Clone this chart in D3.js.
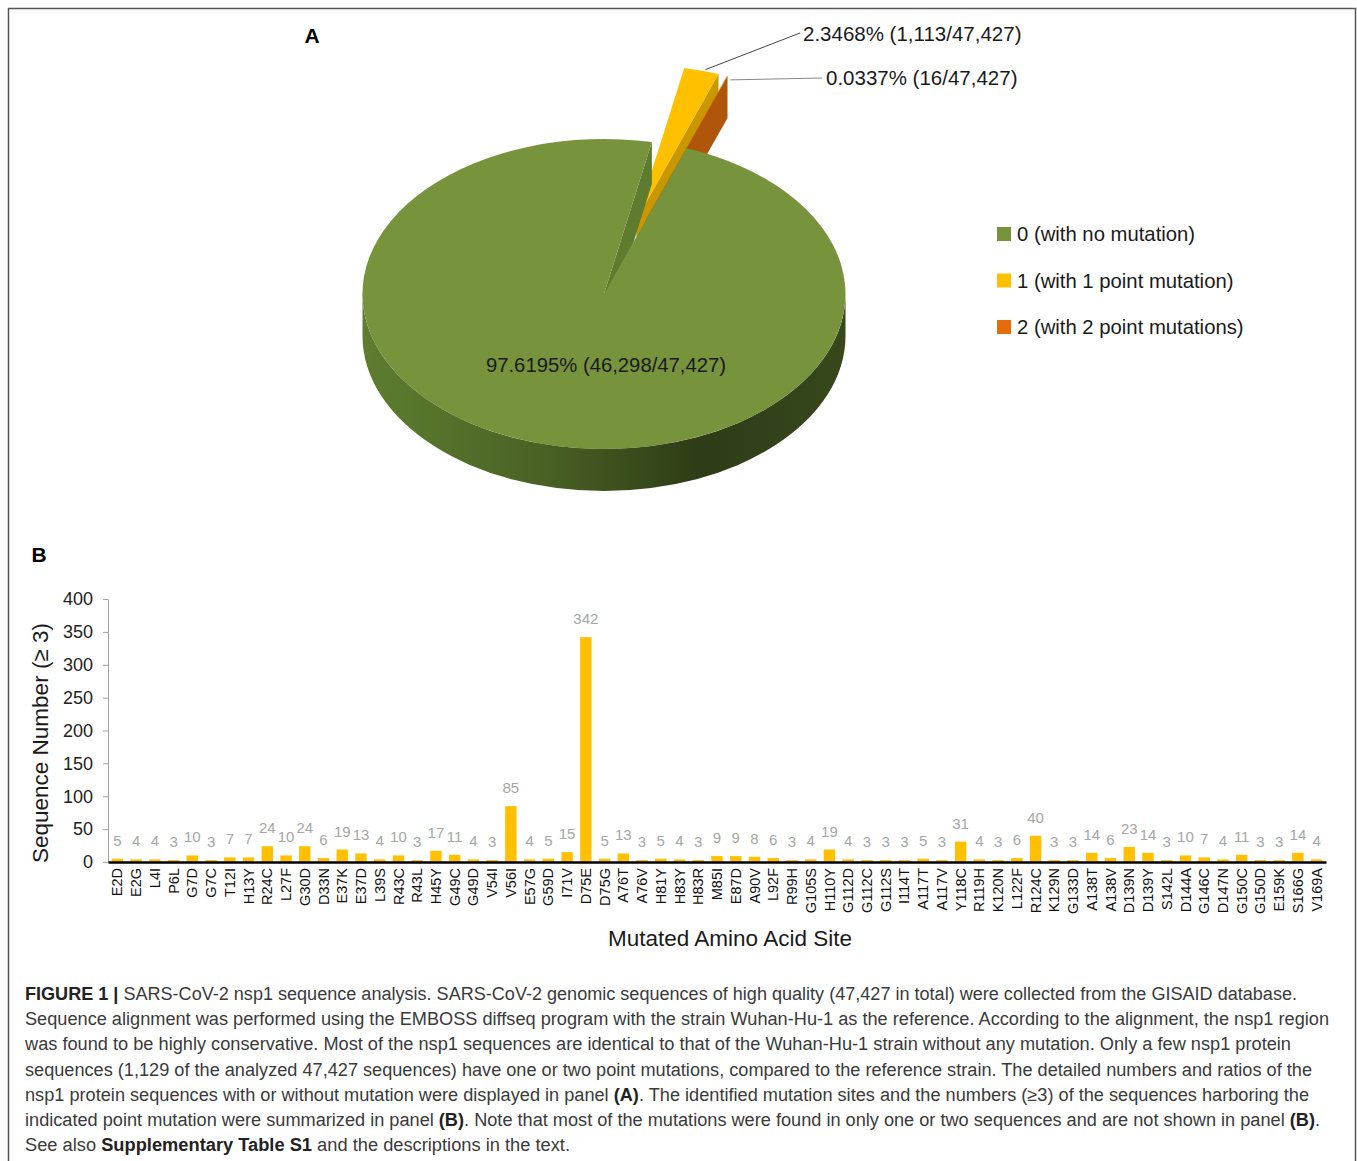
<!DOCTYPE html>
<html><head><meta charset="utf-8">
<script src="https://cdn.jsdelivr.net/npm/d3@7"></script>
<style>
body{margin:0;background:#fff}
text{font-family:"Liberation Sans",Arial,Helvetica,sans-serif}
</style>
</head><body>
<svg id="c" width="1357" height="1161"></svg>
<script>
// ---------- data ----------
const pieCategories = ["0 (with no mutation)", "1 (with 1 point mutation)", "2 (with 2 point mutations)"];
const pieCounts = [46298, 1113, 16];
const pieLabelTexts = ["97.6195% (46,298/47,427)", "2.3468% (1,113/47,427)", "0.0337% (16/47,427)"];

const sites = ["E2D","E2G","L4I","P6L","G7D","G7C","T12I","H13Y","R24C","L27F","G30D","D33N","E37K","E37D","L39S","R43C","R43L","H45Y","G49C","G49D","V54I","V56I","E57G","G59D","I71V","D75E","D75G","A76T","A76V","H81Y","H83Y","H83R","M85I","E87D","A90V","L92F","R99H","G105S","H110Y","G112D","G112C","G112S","I114T","A117T","A117V","Y118C","R119H","K120N","L122F","R124C","K129N","G133D","A138T","A138V","D139N","D139Y","S142L","D144A","G146C","D147N","G150C","G150D","E159K","S166G","V169A"];
const siteCounts = [5,4,4,3,10,3,7,7,24,10,24,6,19,13,4,10,3,17,11,4,3,85,4,5,15,342,5,13,3,5,4,3,9,9,8,6,3,4,19,4,3,3,3,5,3,31,4,3,6,40,3,3,14,6,23,14,3,10,7,4,11,3,3,14,4];
const yTickValues = [0,50,100,150,200,250,300,350,400];

const captionLines = [
  [["FIGURE 1 |",true],[" SARS-CoV-2 nsp1 sequence analysis. SARS-CoV-2 genomic sequences of high quality (47,427 in total) were collected from the GISAID database.",false]],
  [["Sequence alignment was performed using the EMBOSS diffseq program with the strain Wuhan-Hu-1 as the reference. According to the alignment, the nsp1 region",false]],
  [["was found to be highly conservative. Most of the nsp1 sequences are identical to that of the Wuhan-Hu-1 strain without any mutation. Only a few nsp1 protein",false]],
  [["sequences (1,129 of the analyzed 47,427 sequences) have one or two point mutations, compared to the reference strain. The detailed numbers and ratios of the",false]],
  [["nsp1 protein sequences with or without mutation were displayed in panel ",false],["(A)",true],[". The identified mutation sites and the numbers (\u22653) of the sequences harboring the",false]],
  [["indicated point mutation were summarized in panel ",false],["(B)",true],[". Note that most of the mutations were found in only one or two sequences and are not shown in panel ",false],["(B)",true],[".",false]],
  [["See also ",false],["Supplementary Table S1",true],[" and the descriptions in the text.",false]]
];
const captionWidths = [1272, 1304, 1266, 1287, 1284, 1295, 545];

// ---------- style ----------
const topColors = ["#77933c", "#ffc000", "#e46c0a"];
const wallColors = ["#5f7c2e", "#c99700", "#b0560a"];
const explodes = [0, 120, 120];

const svg = d3.select("#c");

// frame
svg.append("rect").attr("x",8.5).attr("y",8.5).attr("width",1347).attr("height",1200)
  .attr("fill","none").attr("stroke","#555").attr("stroke-width",1.5);

// panel letters
svg.append("text").attr("x",312).attr("y",43).attr("text-anchor","middle")
  .attr("font-size",21).attr("font-weight","bold").text("A");
svg.append("text").attr("x",39).attr("y",562).attr("text-anchor","middle")
  .attr("font-size",21).attr("font-weight","bold").text("B");

// ---------- 3D pie ----------
const cx = 604, cy = 294, rx = 241.5, ry = 155, k = ry / rx, depth = 42;
const startA = 20 * Math.PI / 180;
const arcs = d3.pie().sort(null).value(d => d).startAngle(startA).endAngle(startA + 2 * Math.PI)(pieCounts);

const defs = svg.append("defs");
const grad = defs.append("linearGradient").attr("id","sideGrad")
  .attr("gradientUnits","userSpaceOnUse").attr("x1",cx - rx).attr("x2",cx + rx).attr("y1",0).attr("y2",0);
[[0,"#5e7d30"],[0.35,"#4b6425"],[0.7,"#2e3c17"],[1,"#37481c"]].forEach(s =>
  grad.append("stop").attr("offset",s[0]).attr("stop-color",s[1]));

function proj(theta, r, z, off) {
  return [cx + off[0] + r * Math.sin(theta), cy + k * (off[1] - r * Math.cos(theta)) + z];
}
const pt = p => p[0].toFixed(2) + "," + p[1].toFixed(2);

const pieG = svg.append("g");
const order = [1, 2, 0];
order.forEach(i => {
  const a = arcs[i], a0 = a.startAngle, a1 = a.endAngle, mid = (a0 + a1) / 2;
  const e = explodes[i];
  const off = [e * Math.sin(mid), -e * Math.cos(mid)];
  const C0 = proj(0, 0, 0, off), C1 = proj(0, 0, depth, off);
  if (Math.sin(a0) < 0) {
    pieG.append("path").attr("fill", wallColors[i])
      .attr("d", `M${pt(C0)}L${pt(proj(a0, rx, 0, off))}L${pt(proj(a0, rx, depth, off))}L${pt(C1)}Z`);
  }
  if (Math.sin(a1) > 0) {
    pieG.append("path").attr("fill", wallColors[i])
      .attr("d", `M${pt(C0)}L${pt(proj(a1, rx, 0, off))}L${pt(proj(a1, rx, depth, off))}L${pt(C1)}Z`);
  }
  [0, 2 * Math.PI].forEach(shift => {
    const s = Math.max(a0, Math.PI / 2 + shift), t = Math.min(a1, 1.5 * Math.PI + shift);
    if (s < t) {
      const large = (t - s) > Math.PI ? 1 : 0;
      pieG.append("path").attr("fill", i === 0 ? "url(#sideGrad)" : wallColors[i])
        .attr("d", `M${pt(proj(s, rx, 0, off))}A${rx},${ry} 0 ${large} 1 ${pt(proj(t, rx, 0, off))}` +
          `L${pt(proj(t, rx, depth, off))}A${rx},${ry} 0 ${large} 0 ${pt(proj(s, rx, depth, off))}Z`);
    }
  });
  const large = (a1 - a0) > Math.PI ? 1 : 0;
  pieG.append("path").attr("fill", topColors[i])
    .attr("d", `M${pt(C0)}L${pt(proj(a0, rx, 0, off))}A${rx},${ry} 0 ${large} 1 ${pt(proj(a1, rx, 0, off))}Z`);
});

// pie labels
svg.append("text").attr("x",606).attr("y",372).attr("text-anchor","middle")
  .attr("font-size",20.3).attr("fill","#1a1a1a").text(pieLabelTexts[0]);

function outerMid(i) {
  const a = arcs[i], mid = (a.startAngle + a.endAngle) / 2, e = explodes[i];
  return proj(mid, rx, 0, [e * Math.sin(mid), -e * Math.cos(mid)]);
}
const p1 = outerMid(1);
svg.append("line").attr("x1",p1[0] + 4).attr("y1",p1[1] - 1).attr("x2",800).attr("y2",33)
  .attr("stroke","#444").attr("stroke-width",1);
svg.append("text").attr("x",803).attr("y",41).attr("font-size",20.5).attr("fill","#1a1a1a").text(pieLabelTexts[1]);
const p2 = outerMid(2);
svg.append("line").attr("x1",p2[0] + 3).attr("y1",p2[1] + 4).attr("x2",822).attr("y2",78)
  .attr("stroke","#888").attr("stroke-width",1);
svg.append("text").attr("x",826).attr("y",85).attr("font-size",20.5).attr("fill","#1a1a1a").text(pieLabelTexts[2]);

// legend
const leg = svg.append("g");
pieCategories.forEach((c, i) => {
  const yy = 234 + i * 46.5;
  leg.append("rect").attr("x",997).attr("y",yy - 7).attr("width",14).attr("height",14).attr("fill",topColors[i]);
  leg.append("text").attr("x",1017).attr("y",yy + 7).attr("font-size",20.3).attr("fill","#1a1a1a").text(c);
});

// ---------- bar chart ----------
const x = d3.scaleBand().domain(sites).range([108, 1326]).paddingInner(0.39).paddingOuter(0.195);
const y = d3.scaleLinear().domain([0, 400]).range([862, 599]);

const yAxis = svg.append("g").attr("transform","translate(108,0)")
  .call(d3.axisLeft(y).tickValues(yTickValues).tickSize(5).tickPadding(10).tickSizeOuter(0));
yAxis.select(".domain").attr("stroke","#a0a0a0");
yAxis.selectAll(".tick line").attr("stroke","#a0a0a0");
yAxis.selectAll(".tick text").attr("font-size",18).attr("fill","#222").style("font-family",'"Liberation Sans",Arial,sans-serif');

svg.append("g").selectAll("rect").data(sites).join("rect")
  .attr("x", d => x(d)).attr("width", x.bandwidth())
  .attr("y", (d, i) => y(siteCounts[i])).attr("height", (d, i) => y(0) - y(siteCounts[i]))
  .attr("fill","#ffc000");

svg.append("g").selectAll("text").data(sites).join("text")
  .attr("x", d => x(d) + x.bandwidth() / 2).attr("y", (d, i) => y(siteCounts[i]) - 13)
  .attr("text-anchor","middle").attr("font-size",15).attr("fill","#a6a6a6")
  .text((d, i) => siteCounts[i]);

const xAxis = svg.append("g").attr("transform","translate(0,862)")
  .call(d3.axisBottom(x).tickSize(0).tickSizeOuter(0));
xAxis.select(".domain").attr("stroke","#000").attr("stroke-width",2.5);
xAxis.selectAll(".tick text")
  .attr("transform","rotate(-90)").attr("x",-6).attr("y",0).attr("dy","0.35em")
  .attr("text-anchor","end").attr("font-size",14.5).attr("fill","#111")
  .style("font-family",'"Liberation Sans",Arial,sans-serif');

svg.append("text").attr("transform","translate(48,743) rotate(-90)").attr("text-anchor","middle")
  .attr("font-size",22.5).attr("fill","#1a1a1a").text("Sequence Number (\u2265 3)");
svg.append("text").attr("x",730).attr("y",946).attr("text-anchor","middle")
  .attr("font-size",22.5).attr("fill","#1a1a1a").text("Mutated Amino Acid Site");

// ---------- caption ----------
captionLines.forEach((parts, i) => {
  const t = svg.append("text").attr("x",25).attr("y",1000 + i * 25.2)
    .attr("font-size",18).attr("fill","#3a3a3a")
    .attr("textLength", captionWidths[i]).attr("lengthAdjust","spacingAndGlyphs");
  parts.forEach(p => t.append("tspan").attr("font-weight", p[1] ? "bold" : "normal")
    .attr("fill", p[1] ? "#222" : "#3a3a3a").text(p[0]));
});
</script>
</body></html>
